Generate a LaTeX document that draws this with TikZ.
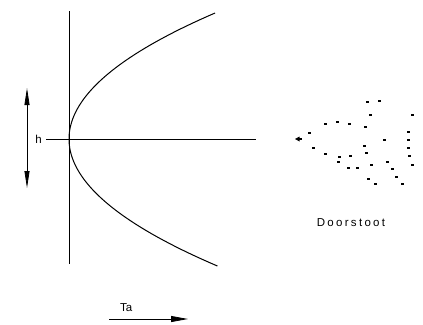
\documentclass[tikz,border=0pt]{standalone}
\usepackage{fontspec}
\setmainfont{Liberation Sans}
\newfontfamily\spacedfont[LetterSpace=20]{Liberation Sans}
\usetikzlibrary{positioning, arrows.meta}

\begin{document}
\begin{tikzpicture}[
  x=1pt, y=-1pt, % one unit = one pixel of the reference, y downwards
  every node/.style={draw=none, font=\fontsize{11.5}{13}\selectfont, inner sep=1pt},
  axis/.style={line width=1pt},
  pointer/.style={line width=0.8pt, -{Stealth[inset=0pt, length=17pt, width=6pt]}},
  twoway/.style={line width=0.8pt, {Stealth[inset=0pt, length=17pt, width=5pt]}-{Stealth[inset=0pt, length=17pt, width=5pt]}},
]
  \useasboundingbox (0,0) rectangle (423,324);

  % axes
  \coordinate (vtop) at (69,11);
  \coordinate (vbot) at (69,264);
  \coordinate (hstart) at (46,139);
  \coordinate (hend) at (256,139);
  \draw[axis] (vtop) -- (vbot);
  \draw[axis] (hstart) -- (hend);

  % parabola, vertex on the axes
  \draw[axis] plot[domain=-126:127, samples=80, variable=\t]
    ({69+0.0092*\t*\t},{139+\t});

  % h with its double arrow
  \node[left=3pt of hstart] (h) {h};
  \coordinate (htop) at (27,88);
  \coordinate (hbot) at (27,188);
  \draw[twoway] (htop) -- (hbot);

  % Ta with its arrow
  \coordinate (tastart) at (109,319);
  \coordinate (taend) at (188,319);
  \draw[pointer] (tastart) -- (taend);
  \node[above right=6pt and 10pt of tastart] (ta) {Ta};

  % Doorstoot: scattered specks
  \fill (295,139) -- (299.5,136.5) -- (299.5,141.5) -- cycle;
  \fill (299,138.4) rectangle (302,139.6);
  \foreach \x/\y in {367/102, 379/101, 370/115, 412/115, 325/124, 337/122,
    349/124, 365/127, 309/133, 408/132, 384/140, 408/140, 313/148, 364/146,
    408/148, 325/154, 366/153, 409/156, 339/157, 350/156, 338/162, 371/165,
    387/162, 412/165, 348/168, 357/168, 392/169, 396/177, 368/179, 375/184,
    402/184}
    \fill (\x-1.5,\y-0.8) rectangle ++(3,1.6);
  \node (door) at (351,223) {\spacedfont Doorstoot};

\end{tikzpicture}
\end{document}
